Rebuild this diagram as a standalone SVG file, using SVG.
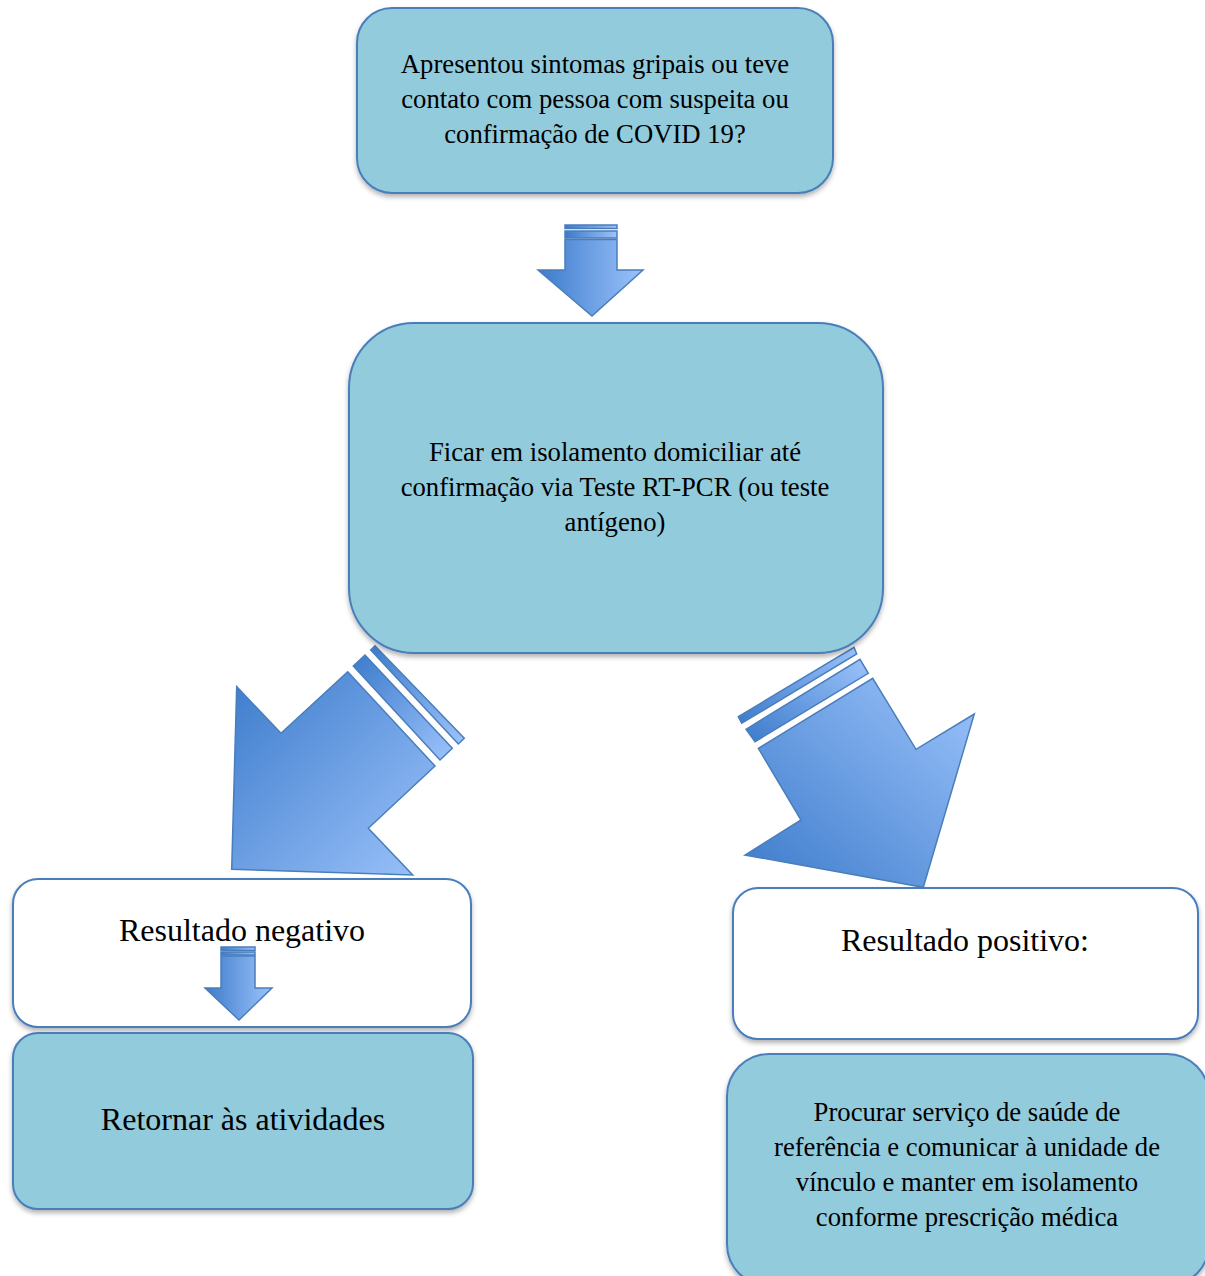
<svg xmlns="http://www.w3.org/2000/svg" width="1205" height="1276" viewBox="0 0 1205 1276">
<style>
.box{fill:#92CBDC;stroke:#4A7EBB;stroke-width:2;filter:url(#sh)}
.wbox{fill:#FFFFFF;stroke:#4A7EBB;stroke-width:2;filter:url(#sh)}
.t{font-family:"Liberation Serif","Times New Roman",serif;fill:#000;text-anchor:middle}
.s{font-size:26.7px}
.l{font-size:32px}
.arr{stroke:#4A7EBB;stroke-width:1.5;stroke-linejoin:miter}
</style>
<defs>
<filter id="sh" x="-10%" y="-10%" width="120%" height="130%">
<feDropShadow dx="0" dy="3" stdDeviation="2.5" flood-color="#000" flood-opacity="0.3"/>
</filter>
<linearGradient id="gd" x1="0" y1="0" x2="1" y2="0">
<stop offset="0" stop-color="#3C7BCB"/><stop offset="1" stop-color="#9CC3FB"/>
</linearGradient>
<linearGradient id="gl" x1="0" y1="0" x2="1" y2="1">
<stop offset="0" stop-color="#3C7BCB"/><stop offset="1" stop-color="#9CC3FB"/>
</linearGradient>
<linearGradient id="gr" x1="0" y1="1" x2="1" y2="0">
<stop offset="0" stop-color="#3C7BCB"/><stop offset="1" stop-color="#9CC3FB"/>
</linearGradient>
</defs>

<g id="connectors">
<g id="arrow-down-1" class="arr" fill="url(#gd)">
<rect x="565" y="225" width="52" height="3.5"/>
<rect x="565" y="231" width="52" height="7"/>
<polygon points="565,239.5 617,239.5 617,270 643,270 592,316 538,270 565,270"/>
</g>
<g id="arrow-left" class="arr" fill="url(#gl)">
<polygon points="370.7,650 375,645.7 464.3,738.3 458.3,744"/>
<polygon points="353.3,666 365,655 452.3,748.3 440,760"/>
<polygon points="347.7,671.7 435,766 368.3,828.3 412.7,875 231.7,869.3 236.7,686.7 281,733.3"/>
</g>
<g id="arrow-right" class="arr" fill="url(#gr)">
<polygon points="738.3,716.7 854,647.3 856.7,654 741.7,723.3"/>
<polygon points="746,729.3 860,659.3 868.3,673.3 755,741.7"/>
<polygon points="758.3,748.3 872.7,678.3 916,749.3 974.3,714 923.3,887.3 745,855 801,820"/>
</g>
</g>

<g id="node-1">
<rect class="box" x="357" y="8" width="476" height="185" rx="35"/>
<text class="t s" x="595" y="73">Apresentou sintomas gripais ou teve</text>
<text class="t s" x="595" y="108">contato com pessoa com suspeita ou</text>
<text class="t s" x="595" y="143">confirmação de COVID 19?</text>
</g>

<g id="node-2">
<rect class="box" x="349" y="323" width="534" height="330" rx="65"/>
<text class="t s" x="615" y="461">Ficar em isolamento domiciliar até</text>
<text class="t s" x="615" y="496">confirmação via Teste RT-PCR (ou teste</text>
<text class="t s" x="615" y="531">antígeno)</text>
</g>

<g id="node-3">
<rect class="wbox" x="13" y="879" width="458" height="148" rx="25"/>
<text class="t l" x="242" y="941">Resultado negativo</text>
</g>

<g id="arrow-down-2" class="arr" fill="url(#gd)">
<rect x="221" y="947" width="34" height="3.5"/>
<rect x="221" y="952" width="34" height="3"/>
<polygon points="221,956 255,956 255,988 272,988 239,1020 205,988 221,988"/>
</g>

<g id="node-4">
<rect class="box" x="13" y="1033" width="460" height="176" rx="25"/>
<text class="t l" x="243" y="1130">Retornar às atividades</text>
</g>

<g id="node-5">
<rect class="wbox" x="733" y="888" width="465" height="151" rx="25"/>
<text class="t l" x="965" y="951">Resultado positivo:</text>
</g>

<g id="node-6">
<rect class="box" x="727" y="1054" width="482" height="232" rx="42"/>
<text class="t s" x="967" y="1121">Procurar serviço de saúde de</text>
<text class="t s" x="967" y="1156">referência e comunicar à unidade de</text>
<text class="t s" x="967" y="1191">vínculo e manter em isolamento</text>
<text class="t s" x="967" y="1226">conforme prescrição médica</text>
</g>
</svg>
